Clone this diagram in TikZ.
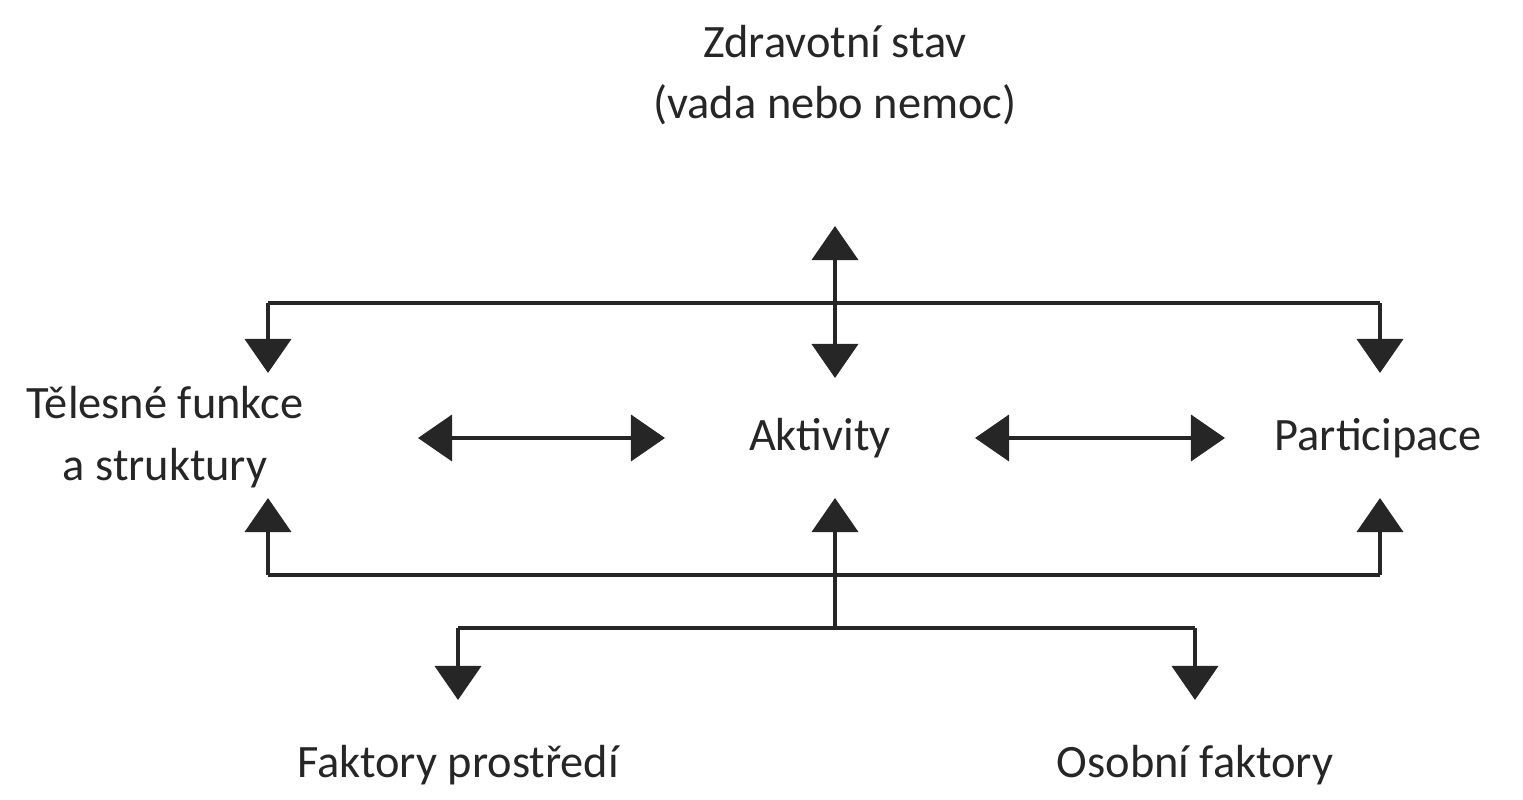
\documentclass[tikz,border=0pt]{standalone}
\usepackage{fontspec}
\setmainfont{Carlito}
\usetikzlibrary{arrows.meta}
\begin{document}
\begin{tikzpicture}[x=0.01cm,y=-0.01cm,
    lbl/.style={font=\fontsize{13.2}{17.5}\selectfont,align=center,text=black!85},
    conn/.style={line width=1.1pt,black!85},
    tip/.style={-{Triangle[width=0.46cm,length=0.34cm]}},
    dtip/.style={{Triangle[width=0.46cm,length=0.34cm]}-{Triangle[width=0.46cm,length=0.34cm]}}]
  \useasboundingbox (0,0) rectangle (1523,800);
  %labels
  \node[lbl] (zdrav) at (835,75) {Zdravotní stav\\(vada nebo nemoc)};
  \node[lbl] (telo) at (165,437) {Tělesné funkce\\a struktury};
  \node[lbl] (akt) at (820,438) {Aktivity};
  \node[lbl] (part) at (1378,438) {Participace};
  \node[lbl] (prostr) at (458,765) {Faktory prostředí};
  \node[lbl] (osob) at (1195,765) {Osobní faktory};
  %upper branch
  \coordinate (tl) at (268,303);
  \coordinate (tr) at (1380,303);
  \draw[conn,dtip] (835,226) -- (835,378);
  \draw[conn,tip] (tl) -- (268,373);
  \draw[conn] (tl) -- (tr);
  \draw[conn,tip] (tr) -- (1380,373);
  %middle arrows
  \draw[conn,dtip] (418,438) -- (665,438);
  \draw[conn,dtip] (975,438) -- (1225,438);
  %lower branch
  \coordinate (bl) at (268,575);
  \coordinate (br) at (1380,575);
  \draw[conn] (bl) -- (br);
  \foreach \x in {268,835,1380}
    \draw[conn,tip] (\x,575) -- (\x,498);
  \draw[conn] (835,575) -- (835,628);
  \draw[conn] (458,628) -- (1195,628);
  \draw[conn,tip] (458,628) -- (458,700);
  \draw[conn,tip] (1195,628) -- (1195,700);
\end{tikzpicture}
\end{document}
